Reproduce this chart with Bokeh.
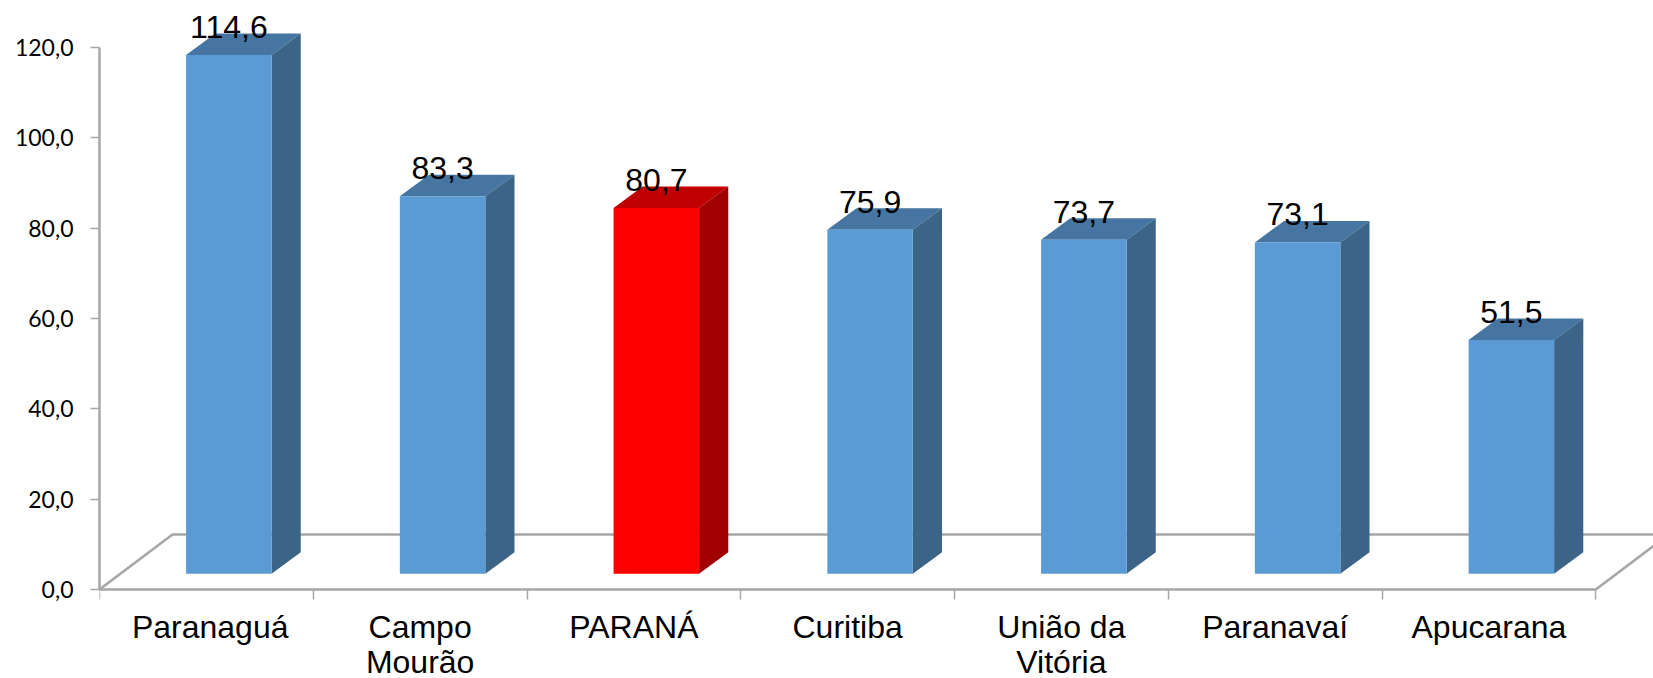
from bokeh.plotting import figure
from bokeh.embed import file_html
from bokeh.resources import INLINE
from bokeh.models import FixedTicker, Range1d
from bokeh.core.properties import value

categories = ["Paranaguá", "Campo\nMourão", "PARANÁ", "Curitiba", "União da\nVitória", "Paranavaí", "Apucarana"]
values = [114.6, 83.3, 80.7, 75.9, 73.7, 73.1, 51.5]
value_labels = ["114,6", "83,3", "80,7", "75,9", "73,7", "73,1", "51,5"]
y_ticks = [0, 20, 40, 60, 80, 100, 120]
y_tick_labels = {0: "0,0", 20: "20,0", 40: "40,0", 60: "60,0", 80: "80,0", 100: "100,0", 120: "120,0"}
front_colors = ["#5B9BD5", "#5B9BD5", "#FF0000", "#5B9BD5", "#5B9BD5", "#5B9BD5", "#5B9BD5"]
top_colors = ["#4675A1", "#4675A1", "#C00000", "#4675A1", "#4675A1", "#4675A1", "#4675A1"]
side_colors = ["#3B6487", "#3B6487", "#A00000", "#3B6487", "#3B6487", "#3B6487", "#3B6487"]

# projection of the pseudo-3D box, in data units
BAR_LEFT, BAR_RIGHT = 0.405, 0.805
BASE, TOP_EXTRA = 3.48, 3.75
DX, DY = 0.1365, 4.75
FLOOR_DX, FLOOR_DY = 0.3415, 12.18
GREY = "#A6A6A6"

p = figure(width=1653, height=678, output_backend="svg", toolbar_location=None,
           x_range=Range1d(0, 7.27), y_range=Range1d(-19.7, 130.4),
           min_border_left=99, min_border_right=0, min_border_top=0, min_border_bottom=0,
           background_fill_color="white", border_fill_color="white")
p.outline_line_color = None
p.grid.visible = False

# floor
p.line([0, FLOOR_DX, 7 + FLOOR_DX, 7], [0, FLOOR_DY, FLOOR_DY, 0], line_color=GREY, line_width=2.5)

for i, v in enumerate(values):
    l, r = i + BAR_LEFT, i + BAR_RIGHT
    t = v + TOP_EXTRA
    p.patch([l, r, r + DX, l + DX], [t, t, t + DY, t + DY], fill_color=top_colors[i], line_color=None)
    p.patch([r, r + DX, r + DX, r], [BASE, BASE + DY, t + DY, t], fill_color=side_colors[i], line_color=None)
    p.quad(left=l, right=r, bottom=BASE, top=t, fill_color=front_colors[i], line_color=None)

p.text(x=[i + (BAR_LEFT + BAR_RIGHT) / 2 for i in range(7)], y=[v + TOP_EXTRA for v in values], text=value_labels,
       text_font=value("Liberation Sans"), text_font_size="32px", text_color="black",
       text_align="center", text_baseline="alphabetic", y_offset=-28)

xa = p.xaxis[0]
label_positions = [0.518, 1.5, 2.5, 3.5, 4.5, 5.5, 6.5]
xa.fixed_location = 0
xa.ticker = FixedTicker(ticks=label_positions, minor_ticks=list(range(8)))
xa.major_label_overrides = {pos: c for pos, c in zip(label_positions, categories)}
xa.bounds = (0, 7)
xa.axis_line_color = GREY
xa.axis_line_width = 2.5
xa.major_tick_line_color = None
xa.major_tick_out = 0
xa.major_tick_in = 0
xa.minor_tick_line_color = GREY
xa.minor_tick_line_width = 1.5
xa.minor_tick_out = 10
xa.minor_tick_in = 0
xa.major_label_standoff = 9
xa.major_label_text_font = "Liberation Sans"
xa.major_label_text_font_size = "32px"
xa.major_label_text_line_height = 0.99
xa.major_label_text_color = "black"

ya = p.yaxis[0]
ya.ticker = FixedTicker(ticks=y_ticks)
ya.major_label_overrides = y_tick_labels
ya.bounds = (0, 120)
ya.axis_line_color = GREY
ya.axis_line_width = 2.5
ya.major_tick_line_color = GREY
ya.major_tick_line_width = 1.5
ya.major_tick_out = 9
ya.major_tick_in = 0
ya.minor_tick_line_color = None
ya.major_label_standoff = 17
ya.major_label_text_font = "Lato"
ya.major_label_text_font_size = "23px"
ya.major_label_text_color = "black"

open("out.html", "w").write(file_html(p, INLINE))
